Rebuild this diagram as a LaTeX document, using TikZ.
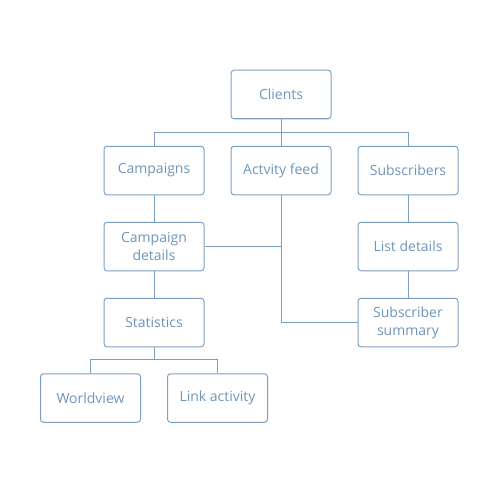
\documentclass[tikz,border=0pt]{standalone}
\usepackage{fontspec}
\setmainfont{Open Sans}
\definecolor{ln}{HTML}{7DA0C2}
\definecolor{tx}{HTML}{6F94B9}
\begin{document}
\begin{tikzpicture}[x=1pt,y=-1pt,
  box/.style={draw=ln,line width=1pt,rounded corners=3pt,minimum width=100pt,minimum height=48.5pt,
    inner sep=0pt,align=center,text=tx,font=\fontsize{14}{18}\selectfont},
  con/.style={draw=ln,line width=1pt}]
\useasboundingbox (0,0) rectangle (500,500);
\node[box] (cl) at (281,94.5) {Clients};
\node[box] (ca) at (154,170.5) {Campaigns};
\node[box] (af) at (281,170.5) {Actvity feed};
\node[box] (su) at (408,170.5) {Subscribers};
\node[box] (cd) at (154,246.5) {Campaign\\details};
\node[box] (ld) at (408,246.5) {List details};
\node[box] (st) at (154,322.5) {Statistics};
\node[box] (ss) at (408,322.5) {Subscriber\\summary};
\node[box] (wv) at (90.5,398) {Worldview};
\node[box] (la) at (217.5,398) {Link activity};
\coordinate (b1) at (281,132.5);
\coordinate (j1) at (281,246.5);
\coordinate (j2) at (281,322.5);
\coordinate (b2) at (154,359.5);
\draw[con] (cl.south) -- (b1);
\draw[con] (ca.north) |- (b1) -| (su.north);
\draw[con] (b1) -- (af.north);
\draw[con] (af.south) -- (j2) -- (ss.west);
\draw[con] (cd.east) -- (j1);
\draw[con] (ca.south) -- (cd.north);
\draw[con] (cd.south) -- (st.north);
\draw[con] (su.south) -- (ld.north);
\draw[con] (ld.south) -- (ss.north);
\draw[con] (st.south) -- (b2);
\draw[con] (wv.north) |- (b2) -| (la.north);
\end{tikzpicture}
\end{document}
